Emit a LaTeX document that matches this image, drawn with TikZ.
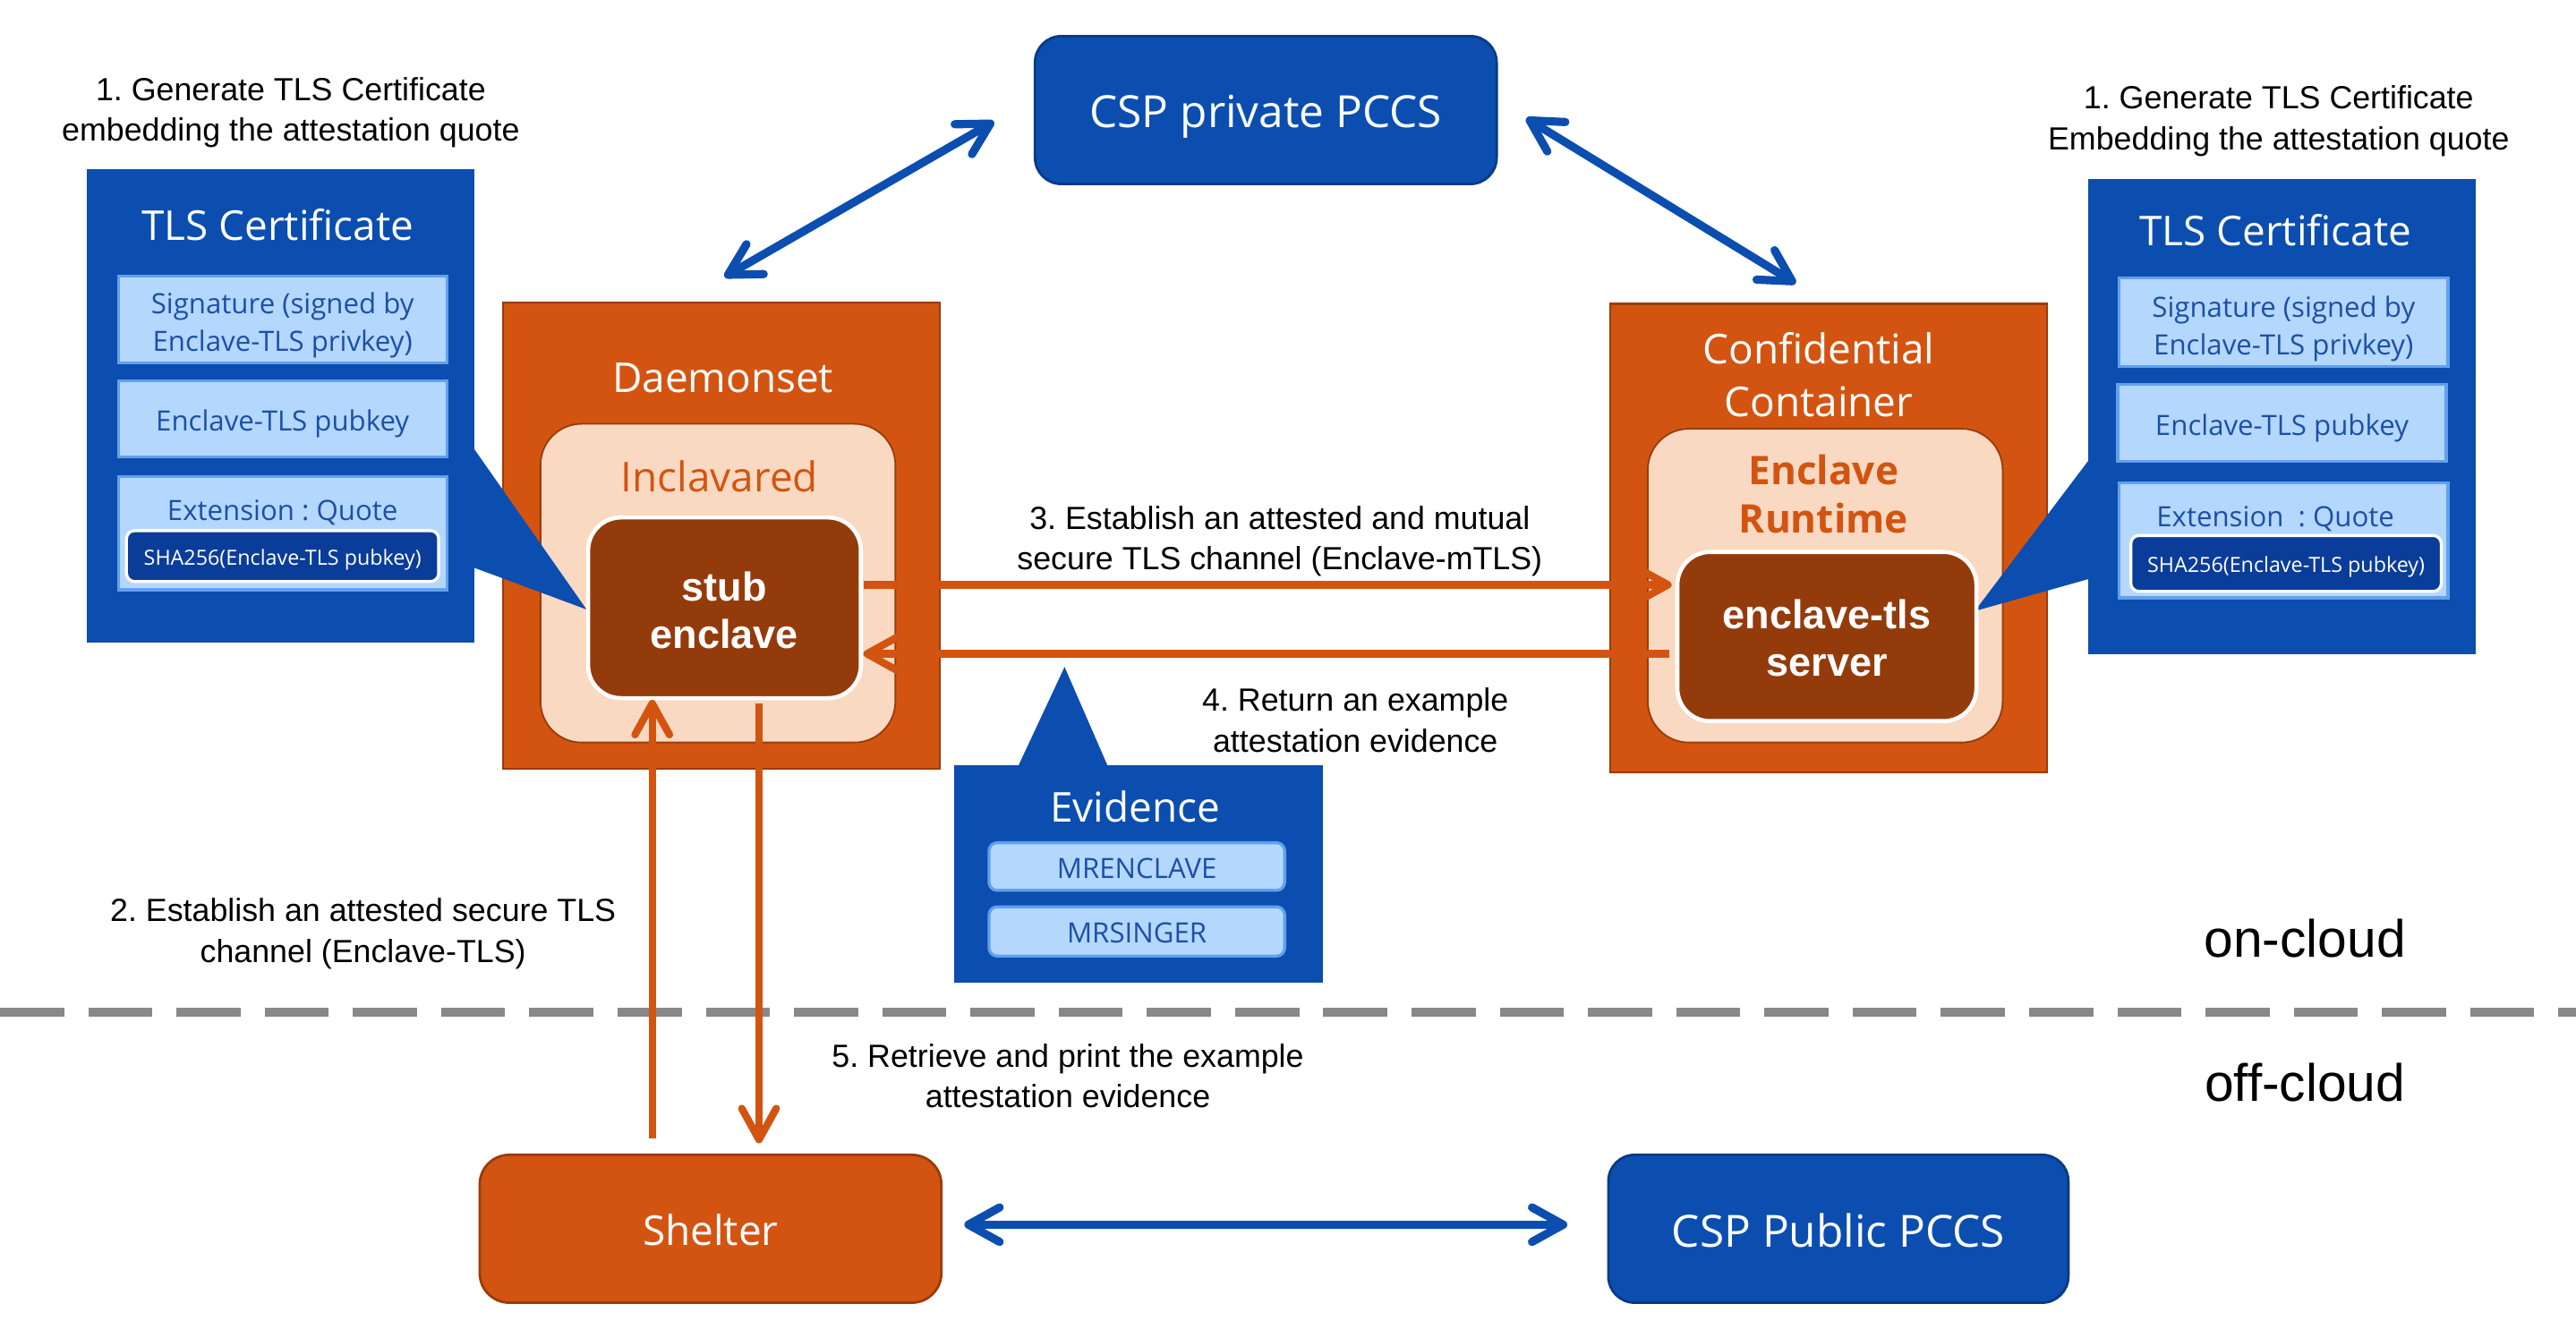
\documentclass[tikz,border=0pt]{standalone}
\usepackage{fontspec}
\setmainfont{Liberation Sans}
\newfontfamily\boxfont{Open Sans}
\usetikzlibrary{arrows.meta,fit}
\frenchspacing
\definecolor{cblue}{HTML}{0B4EB0}
\definecolor{cbluedark}{HTML}{083A85}
\definecolor{cnavy}{HTML}{0A3D99}
\definecolor{corange}{HTML}{D35411}
\definecolor{corangedark}{HTML}{9A3B0A}
\definecolor{cbrown}{HTML}{943B0C}
\definecolor{cpeach}{HTML}{F9D9C1}
\definecolor{clight}{HTML}{B4D7FD}
\definecolor{clightborder}{HTML}{62A0EC}
\definecolor{ctext}{HTML}{1D4FA8}
\definecolor{cgray}{HTML}{888888}
\tikzset{
  lbl/.style={align=center, inner sep=0pt, font=\fontsize{19.5}{25}\selectfont},
  cloudlbl/.style={inner sep=0pt, font=\fontsize{32}{36}\selectfont},
  certbox/.style={fill=cblue, draw=none, inner sep=0pt},
  certtitle/.style={inner sep=0pt, text=white, font=\boxfont\fontsize{25}{30}\selectfont},
  subbox/.style={fill=clight, draw=clightborder, line width=1.8pt, inner sep=0pt,
     text=ctext, align=center, font=\boxfont\fontsize{17}{23}\selectfont},
  shabox/.style={fill=cnavy, draw=white, line width=1.8pt, rounded corners=5pt, inner sep=0pt,
     text=white, font=\boxfont\fontsize{12.7}{15}\selectfont},
  podbox/.style={fill=corange, draw=corangedark, line width=1.2pt, inner sep=0pt},
  podtitle/.style={inner sep=0pt, text=white, align=center, font=\boxfont\fontsize{25}{32}\selectfont},
  peachbox/.style={fill=cpeach, draw=corangedark, line width=1pt, rounded corners=25pt, inner sep=0pt},
  enclbox/.style={fill=cbrown, draw=white, line width=2.5pt, rounded corners=20pt, inner sep=0pt,
     text=white, align=center, font=\bfseries\fontsize{24.5}{29}\selectfont},
  pccsbox/.style={fill=cblue, draw=cbluedark, line width=1.5pt, rounded corners=16pt, inner sep=0pt,
     text=white, font=\boxfont\fontsize{27}{32}\selectfont},
  shelterbox/.style={fill=corange, draw=corangedark, line width=1.5pt, rounded corners=18pt, inner sep=0pt,
     text=white, font=\boxfont\fontsize{25}{30}\selectfont},
  mrbox/.style={fill=clight, draw=clightborder, line width=1.8pt, rounded corners=5pt, inner sep=0pt,
     text=ctext, font=\boxfont\fontsize{17}{20}\selectfont},
  barb/.tip={Straight Barb[length=19pt,width=21pt,round]},
  bluearrow/.style={draw=cblue, line width=5pt, barb-barb},
  orangearrow/.style={draw=corange, line width=4.5pt, -barb},
}
\begin{document}
\begin{tikzpicture}[x=1pt,y=-1pt]
\useasboundingbox (0,0) rectangle (1568,814);
\fill[white] (0,0) rectangle (1568,814);

% ---------- free labels ----------
\node[lbl] (l1) at (177,68.5) {1. Generate TLS Certificate\\embedding the attestation quote};
\node[lbl] (r1) at (1387,73.5) {1. Generate TLS Certificate\\Embedding the attestation quote};
\node[lbl] (l3) at (779,329.5) {3. Establish an attested and mutual\\secure TLS channel (Enclave-mTLS)};
\node[lbl] (l4) at (825,438.5) {4. Return an example\\attestation evidence};
\node[lbl] (l2) at (221,568.5) {2. Establish an attested secure TLS\\channel (Enclave-TLS)};
\node[lbl] (l5) at (650,655) {5. Retrieve and print the example\\attestation evidence};
\node[cloudlbl] (oncl) at (1403,571) {on-cloud};
\node[cloudlbl] (offcl) at (1403,659) {off-cloud};

% ---------- on/off cloud divider ----------
\coordinate (dl) at (0,616);
\coordinate (dr) at (1568,616);
\draw[cgray, line width=5.4pt, dash pattern=on 39pt off 14.7pt] (dl) -- (dr);

% ---------- left TLS certificate ----------
\node[certbox, fit={(53,103) (289,391)}] (tlsL) {};
\node[certtitle] (tlsLt) at (169,137) {TLS Certificate};
\node[subbox, fit={(72,168) (272,221)}] (sigL) {};
\node[subbox, draw=none, fill=none, yshift=-3.5pt] (sigLt) at (sigL.center) {Signature (signed by\\Enclave-TLS privkey)};
\node[subbox, fit={(72,232) (272,278)}] (pubL) {};
\node[subbox, draw=none, fill=none, yshift=-3pt] (pubLt) at (pubL.center) {Enclave-TLS pubkey};
\node[subbox, fit={(72,290) (272,359)}] (extL) {};
\node[subbox, draw=none, fill=none] (extLt) at (172,312) {Extension : Quote};
\node[shabox, fit={(77,323) (267,354)}] (shaL) {};
\node[shabox, draw=none, fill=none, yshift=-2pt] (shaLt) at (shaL.center) {SHA256(Enclave-TLS pubkey)};

% ---------- right TLS certificate ----------
\node[certbox, fit={(1271,109) (1507,398)}] (tlsR) {};
\node[certtitle] (tlsRt) at (1385,140) {TLS Certificate};
\node[subbox, fit={(1290,169) (1490,223)}] (sigR) {};
\node[subbox, draw=none, fill=none, yshift=-4pt] (sigRt) at (sigR.center) {Signature (signed by\\Enclave-TLS privkey)};
\node[subbox, fit={(1289,234) (1489,281)}] (pubR) {};
\node[subbox, draw=none, fill=none, yshift=-3pt] (pubRt) at (pubR.center) {Enclave-TLS pubkey};
\node[subbox, fit={(1290,294) (1490,364)}] (extR) {};
\node[subbox, draw=none, fill=none] (extRt) at (1385,316) {Extension\ \ : Quote};
\node[shabox, fit={(1297,326) (1486,360)}] (shaR) {};
\node[shabox, draw=none, fill=none, yshift=-2pt] (shaRt) at (shaR.center) {SHA256(Enclave-TLS pubkey)};

% ---------- Daemonset ----------
\node[podbox, fit={(306,184) (572,468)}] (daemon) {};
\node[podtitle] (daemont) at (440,230) {Daemonset};
\node[peachbox, fit={(329,258) (545,452)}] (incl) {};
\node[inner sep=0pt, text=corange, font=\boxfont\fontsize{25}{30}\selectfont] (inclt) at (438,290) {Inclavared};
\fill[cblue] (287,271) -- (357,371) -- (287,345) -- cycle;
\node[enclbox, fit={(358,315) (524,425)}] (stub) {};
\node[enclbox, draw=none, fill=none, yshift=-1.5pt] (stubt) at (stub.center) {stub\\enclave};

% ---------- Confidential Container ----------
\node[podbox, fit={(980,185) (1246,470)}] (cc) {};
\node[podtitle] (cct) at (1107,228) {Confidential\\Container};
\node[peachbox, fit={(1003,261) (1219,452)}] (er) {};
\node[inner sep=0pt, align=center, text=corange, font=\boxfont\bfseries\fontsize{24}{29.5}\selectfont] (ert) at (1110,300.5) {Enclave\\Runtime};
\fill[cblue] (1273,278) -- (1202,372) -- (1273,352) -- cycle;
\node[enclbox, fit={(1021,336) (1203,439)}] (etls) {};
\node[enclbox, draw=none, fill=none] (etlst) at (1112,388.5) {enclave-tls\\server};

% ---------- CSP private PCCS ----------
\node[pccsbox, fit={(630,22) (911,112)}] (pccsP) {};
\node[pccsbox, draw=none, fill=none, yshift=-4pt] (pccsPt) at (pccsP.center) {CSP private PCCS};

% ---------- Evidence ----------
\node[certbox, fit={(581,466) (805,598)}] (evid) {};
\fill[cblue] (619,468) -- (648,406) -- (675,468) -- cycle;
\node[certtitle] (evidt) at (691,491) {Evidence};
\node[mrbox, fit={(602,513) (782,542)}] (mre) {};
\node[mrbox, draw=none, fill=none, yshift=-1pt] (mret) at (mre.center) {MRENCLAVE};
\node[mrbox, fit={(602,552) (782,582)}] (mrs) {};
\node[mrbox, draw=none, fill=none, yshift=-1pt] (mrst) at (mrs.center) {MRSINGER};

% ---------- off-cloud ----------
\node[shelterbox, fit={(292,703) (573,793)}] (shelter) {};
\node[shelterbox, draw=none, fill=none, yshift=-1pt] (sheltert) at (shelter.center) {Shelter};
\node[pccsbox, fit={(979,703) (1259,793)}] (pccsPub) {};
\node[pccsbox, draw=none, fill=none, yshift=-1pt] (pccsPubt) at (pccsPub.center) {CSP Public PCCS};

% ---------- connectors ----------
\coordinate (a1s) at (441,168.5);
\coordinate (a1e) at (605,74);
\draw[bluearrow] (a1s) -- (a1e);
\coordinate (a2s) at (929,72);
\coordinate (a2e) at (1093,172.5);
\draw[bluearrow] (a2s) -- (a2e);
\coordinate (a3s) at (587,745.5);
\coordinate (a3e) at (954,745.5);
\draw[bluearrow] (a3s) -- (a3e);

\coordinate (o1s) at (526,356);
\coordinate (o1e) at (1017.5,356);
\draw[orangearrow] (o1s) -- (o1e);
\coordinate (o2s) at (1016,398);
\coordinate (o2e) at (525.5,398);
\draw[orangearrow] (o2s) -- (o2e);
\coordinate (o3s) at (397,693);
\coordinate (o3e) at (397,426);
\draw[orangearrow] (o3s) -- (o3e);
\coordinate (o4s) at (462,428);
\coordinate (o4e) at (462,696);
\draw[orangearrow] (o4s) -- (o4e);
\end{tikzpicture}
\end{document}
